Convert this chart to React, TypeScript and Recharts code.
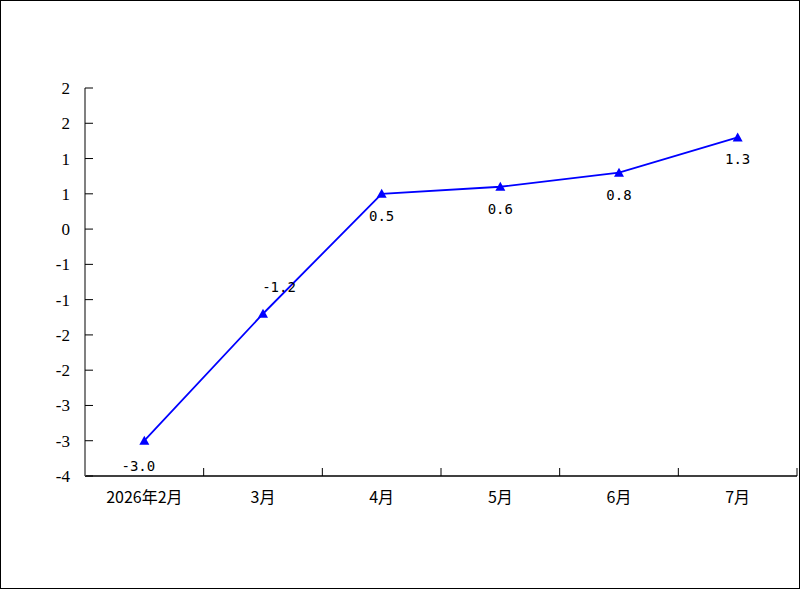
import React from 'react';
import { LineChart, Line, XAxis, YAxis, LabelList } from 'recharts';

const categories = ['2026年2月', '3月', '4月', '5月', '6月', '7月'];
const values = [-3.0, -1.2, 0.5, 0.6, 0.8, 1.3];
const yTicks = [-3.5, -3, -2.5, -2, -1.5, -1, -0.5, 0, 0.5, 1, 1.5, 2];

const data = categories.map((c, i) => ({ month: c, value: values[i] }));

const fmtY = (v: number) => (v < 0 ? '-' : '') + String(Math.round(Math.abs(v)));

const XTick = (props: any) => {
  const { x, y, payload, width, visibleTicksCount } = props;
  let half = payload && payload.offset ? payload.offset : 0;
  if (!half && width && visibleTicksCount) half = width / visibleTicksCount / 2;
  return (
    <g>
      <line x1={x + half} x2={x + half} y1={y} y2={y - 8} stroke="#000" strokeWidth={1} />
      <text x={x} y={y + 27} textAnchor="middle" fontSize={16} fontFamily="'Noto Sans CJK SC', sans-serif" fill="#000">
        {payload.value}
      </text>
    </g>
  );
};

const YTick = (props: any) => {
  const { x, y, payload } = props;
  return (
    <text x={x} y={y + 6} textAnchor="end" fontSize={17} style={{ fontFamily: '"Liberation Serif", "DejaVu Serif", serif' }} fill="#000">
      {fmtY(payload.value)}
    </text>
  );
};

const TriDot = (props: any) => {
  const { cx, cy, index } = props;
  if (cx == null || cy == null) return null;
  return <polygon key={`d${index}`} points={`${cx - 5},${cy + 4} ${cx + 5},${cy + 4} ${cx},${cy - 5}`} fill="#0000FF" />;
};

const renderLabel = (props: any) => {
  const { x, y, value, index } = props;
  let dx = 0;
  let dy = 27;
  if (value < -2) { dx = -6; dy = 30; }
  else if (value < 0) { dx = 16; dy = -22; }
  return (
    <text key={`l${index}`} x={x + dx} y={y + dy} textAnchor="middle" fontSize={14} fontFamily="'DejaVu Sans Mono', monospace" fill="#000">
      {Number(value).toFixed(1)}
    </text>
  );
};

export default function App() {
  return (
    <div style={{ position: 'absolute', left: 0, top: 0, width: 800, height: 589, background: '#fff' }}>
      <LineChart width={800} height={589} data={data} margin={{ top: 88, right: 3, bottom: 73, left: 0 }}>
        <XAxis
          dataKey="month"
          scale="band"
          interval={0}
          axisLine={{ stroke: '#000', strokeWidth: 1.5 }}
          tickLine={false}
          tickSize={0}
          tickMargin={0}
          height={40}
          tick={<XTick />}
        />
        <YAxis
          type="number"
          domain={[-3.5, 2]}
          ticks={yTicks}
          interval={0}
          width={85}
          axisLine={{ stroke: '#808080', strokeWidth: 2 }}
          tickLine={{ stroke: '#000' }}
          tickSize={-8}
          tickMargin={23}
          tick={<YTick />}
        />
        <Line
          dataKey="value"
          stroke="#0000FF"
          strokeWidth={1.8}
          dot={<TriDot />}
          activeDot={false}
          isAnimationActive={false}
        >
          <LabelList dataKey="value" content={renderLabel} />
        </Line>
      </LineChart>
      <div style={{ position: 'absolute', left: 0, top: 0, width: 800, height: 589, boxSizing: 'border-box', border: '1px solid #000', pointerEvents: 'none' }} />
    </div>
  );
}
